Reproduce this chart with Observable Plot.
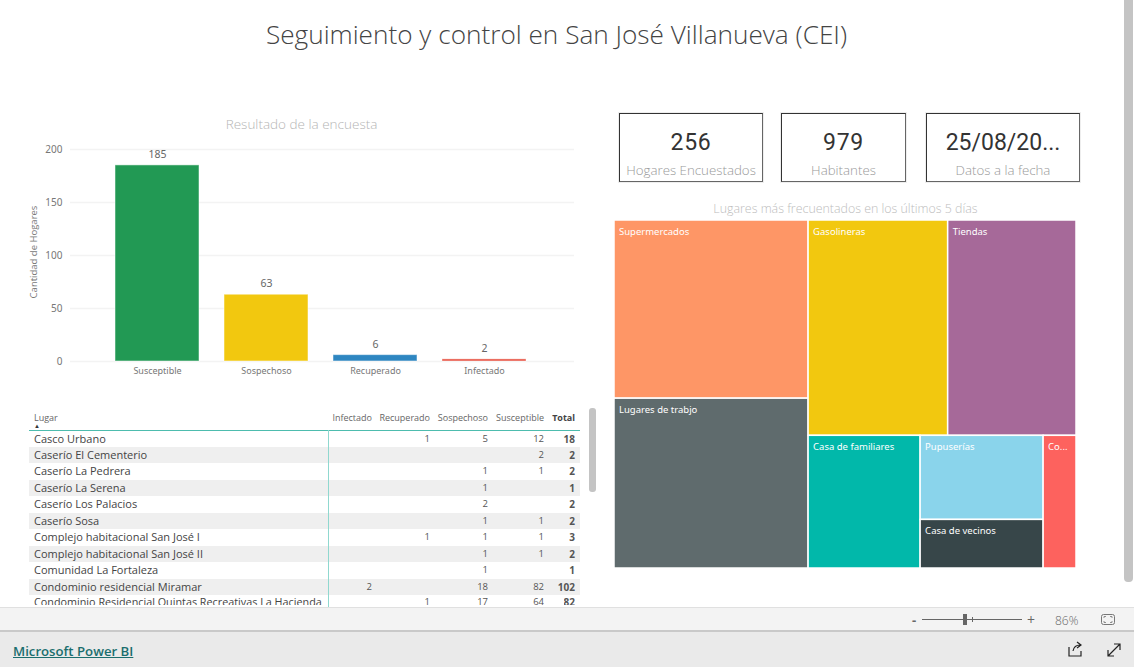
<!DOCTYPE html>
<html><head><meta charset="utf-8">
<script src="https://cdn.jsdelivr.net/npm/d3@7"></script>
<script src="https://cdn.jsdelivr.net/npm/@observablehq/plot@0.6"></script>
<style>
html,body{margin:0;padding:0;background:#fff;overflow:hidden}
#page{position:relative;width:1134px;height:667px;overflow:hidden;font-family:"Open Sans",sans-serif;color:#444}
.a{position:absolute;white-space:nowrap}
.plot{position:absolute}
.plot svg{display:block;overflow:visible}
.kpi{position:absolute;box-sizing:border-box;background:#fff;border:1px solid #333;border-right-color:#666;border-bottom-color:#666;box-shadow:0 0 0 1px #eee;text-align:center}
.kpi .v{position:absolute;left:0;right:0;top:15px;font:400 23px Roboto,sans-serif;letter-spacing:.7px;color:#333}
.kpi .l{position:absolute;left:0;right:0;top:47px;font:300 13.3px "Open Sans",sans-serif;color:#999}
</style></head><body><div id="page"></div>
<script>
const pageTitle = "Seguimiento y control en San José Villanueva (CEI)";
const barTitle = "Resultado de la encuesta";
const barCats = ["Susceptible","Sospechoso","Recuperado","Infectado"];
const barVals = [185,63,6,2];
const barColors = ["#229954","#F2C80F","#2E86C1","#E74C3C"];
const yTicks = [0,50,100,150,200];
const kpiVals = ["256","979","25/08/20..."];
const kpiLabels = ["Hogares Encuestados","Habitantes","Datos a la fecha"];
const treeTitle = "Lugares más frecuentados en los últimos 5 días";
const treeNames = ["Supermercados","Lugares de trabjo","Gasolineras","Tiendas","Casa de familiares","Pupuserías","Casa de vecinos","Co..."];
const treeVals = [214,204,186,171,92,64,37,27];
const treeColors = ["#FE9666","#5F6B6D","#F2C80F","#A66999","#01B8AA","#8AD4EB","#374649","#FD625E"];
const tableCols = ["Infectado","Recuperado","Sospechoso","Susceptible","Total"];
const tablePlaces = ["Casco Urbano","Caserío El Cementerio","Caserío La Pedrera","Caserío La Serena","Caserío Los Palacios","Caserío Sosa","Complejo habitacional San José I","Complejo habitacional San José II","Comunidad La Fortaleza","Condominio residencial Miramar","Condominio Residencial Quintas Recreativas La Hacienda"];
const colInfectado = [null,null,null,null,null,null,null,null,null,2,null];
const colRecuperado = [1,null,null,null,null,null,1,null,null,null,1];
const colSospechoso = [5,null,1,1,2,1,1,1,1,18,17];
const colSusceptible = [12,2,1,null,null,1,1,1,null,82,64];
const colTotal = [18,2,2,1,2,2,3,2,1,102,82];

const page = document.getElementById("page");
function put(cls, css, txt){const d=document.createElement("div");d.className=cls;d.style.cssText=css;if(txt!=null)d.textContent=txt;page.appendChild(d);return d;}

put("a","left:0;width:1113px;top:16px;text-align:center;font:300 26.2px 'Open Sans',sans-serif;color:#444",pageTitle);

// bar chart
put("a","left:0;width:603px;top:115px;text-align:center;font:300 13.5px 'Open Sans',sans-serif;color:#b5b5b5",barTitle);
const barData = barCats.map((c,i)=>({c,v:barVals[i],col:barColors[i]}));
const barPlot = Plot.plot({
  width:574,height:251,marginLeft:70,marginRight:0,marginTop:19,marginBottom:20,
  style:{background:"transparent",fontFamily:"'Open Sans',sans-serif"},
  x:{domain:barCats,range:[89.4,551.5],padding:0.23,label:null,axis:null},
  y:{domain:[0,200],ticks:yTicks,label:null,axis:null},
  marks:[
    Plot.ruleY(yTicks,{stroke:"#f3f3f3",strokeWidth:1.5}),
    Plot.axisY({ticks:yTicks,tickSize:0,tickPadding:8,fontSize:10,color:"#777",label:null}),
    Plot.axisX({tickSize:0,tickPadding:6,fontSize:9,color:"#777",label:null}),
    Plot.barY(barData,{x:"c",y:"v",fill:"col",stroke:"#fff",strokeOpacity:0.5,strokeWidth:1}),
    Plot.text(barData,{x:"c",y:"v",text:d=>String(d.v),dy:-11,fontSize:10.5,fill:"#666"})
  ]
});
barPlot.style.cssText="position:absolute;left:0;top:130px";
page.appendChild(barPlot);
put("a","left:33px;top:252px;transform:translate(-50%,-50%) rotate(-90deg);font:9.5px 'Open Sans',sans-serif;color:#777","Cantidad de Hogares");

// KPI cards
[[619,113,144,69],[781,113,125,69],[926,113,154,69]].forEach((b,i)=>{
  const k=put("kpi",`left:${b[0]}px;top:${b[1]}px;width:${b[2]}px;height:${b[3]}px`);
  const v=document.createElement("div");v.className="v";v.textContent=kpiVals[i];if(i==2)v.style.letterSpacing="0";k.appendChild(v);
  const l=document.createElement("div");l.className="l";l.textContent=kpiLabels[i];k.appendChild(l);
});

// treemap
put("a","left:615px;width:461px;top:200px;text-align:center;font:300 12.4px 'Open Sans',sans-serif;color:#bdbdbd",treeTitle);
const tw=462, th=348;
const leaf=i=>({name:treeNames[i],value:treeVals[i],color:treeColors[i]});
const treeRoot={dir:"dice",children:[
  {dir:"slice",children:[leaf(0),leaf(1)]},
  {dir:"slice",children:[
    {dir:"dice",children:[leaf(2),leaf(3)]},
    {dir:"dice",children:[leaf(4),{dir:"slice",children:[leaf(5),leaf(6)]},leaf(7)]}
  ]}
]};
const rootH=d3.hierarchy(treeRoot).sum(d=>d.value||0);
d3.treemap().size([tw,th]).tile((n,x0,y0,x1,y1)=>(n.data.dir==="dice"?d3.treemapDice:d3.treemapSlice)(n,x0,y0,x1,y1))(rootH);
const cells=rootH.leaves().map(l=>({x0:l.x0,x1:l.x1,y0:l.y0,y1:l.y1,name:l.data.name,color:l.data.color}));
const treePlot=Plot.plot({
  width:tw,height:th,margin:0,
  style:{background:"transparent",fontFamily:"'Open Sans',sans-serif"},
  x:{domain:[0,tw],range:[0,tw],axis:null},
  y:{domain:[0,th],range:[0,th],axis:null},
  marks:[
    Plot.rect(cells,{x1:"x0",x2:"x1",y1:"y0",y2:"y1",fill:"color",stroke:"#fff",strokeWidth:1.5}),
    Plot.text(cells,{x:"x0",y:"y0",text:"name",dx:4.5,dy:11.5,textAnchor:"start",fontSize:9.5,fill:"#fff"})
  ]
});
treePlot.style.cssText="position:absolute;left:614px;top:220px";
page.appendChild(treePlot);

// table
const tbl=put("a","left:0;top:400px;width:600px;height:207px;overflow:hidden");
function tput(css,txt){const d=document.createElement("div");d.className="a";d.style.cssText=css;if(txt!=null)d.textContent=txt;tbl.appendChild(d);return d;}
const rowH=16.45;
const rowTop=i=>30.5+i*rowH;
tablePlaces.forEach((p,i)=>{if(i%2==1)tput(`left:29px;width:551px;top:${rowTop(i)}px;height:${rowH}px;background:#efefef`);});
tput("left:34px;top:11px;font:9px 'Open Sans',sans-serif;color:#666","Lugar");
tput("left:34px;top:22px;font:6px 'Open Sans',sans-serif;color:#333","▲");
const rights=[372,430,488,544,575];
tableCols.forEach((c,j)=>tput(`right:${600-rights[j]}px;top:11px;font:${j==4?700:400} 9px 'Open Sans',sans-serif;color:${j==4?'#444':'#666'}`,c));
tput("left:29px;width:551px;top:30px;height:1px;background:#4dbcae");
tput("left:328px;width:1px;top:30px;height:177px;background:#90d8cf");
const cols=[colInfectado,colRecuperado,colSospechoso,colSusceptible,colTotal];
tablePlaces.forEach((p,i)=>{
  const last=i==tablePlaces.length-1;
  tput(`left:34px;top:${rowTop(i)-(last?1:0)}px;${last?"height:10.5px;overflow:hidden;":""}font:${last?10.8:11}px/16.4px 'Open Sans',sans-serif;color:#444`,p);
  cols.forEach((col,j)=>{if(col[i]!=null)tput(`right:${600-rights[j]}px;top:${rowTop(i)-(last?1:0)}px;${last?"height:10.5px;overflow:hidden;":""}font:${j==4?700:400} ${j==4?10:9.5}px/16.4px 'Open Sans',sans-serif;color:#555`,String(col[i]));});
});
put("a","left:589px;top:408px;width:7px;height:84px;background:#c4c4c4;border-radius:3px");

// page scrollbar
put("a","left:1124px;top:0;width:9px;height:582px;background:#c4c4c4;border-radius:0 0 4px 4px");

// footer
put("a","left:0;top:607px;width:1134px;height:23px;background:#f3f3f3;border-top:1px solid #e0e0e0;box-sizing:border-box");
put("a","left:0;top:630px;width:1134px;height:37px;background:#eaeaea;border-top:2px solid #c9c9c9;box-sizing:border-box");
put("a","left:13px;top:642px;font:600 13.2px 'Open Sans',sans-serif;color:#1b6e6e;text-decoration:underline","Microsoft Power BI");
put("a","left:912px;top:611px;font:700 13px 'Open Sans',sans-serif;color:#666","-");
put("a","left:922px;top:619px;width:100px;height:1px;background:#666");
put("a","left:963px;top:614px;width:4px;height:11px;background:#666");
put("a","left:972px;top:617px;width:1px;height:5px;background:#666");
put("a","left:1027px;top:610px;font:400 14px 'Open Sans',sans-serif;color:#666","+");
put("a","left:1055px;top:612px;font:300 12px 'Open Sans',sans-serif;color:#666","86%");
const icons=document.createElementNS("http://www.w3.org/2000/svg","svg");
icons.setAttribute("width","1134");icons.setAttribute("height","667");icons.style.cssText="position:absolute;left:0;top:0;pointer-events:none";
icons.innerHTML='<g fill="none" stroke="#222" stroke-width="1.2"><path d="M1069 647v9h12v-5"/><path d="M1073 651c1-5 4-6 7-6M1077 642l4 3-4 3"/><path d="M1108 656l12-12M1114 644h6v6M1108 650v6h6"/></g><rect x="1101.5" y="614.5" width="13" height="10" rx="2" fill="none" stroke="#777"/><path d="M1104 618v-1.5h2M1112 618v-1.5h-2M1104 621v1.5h2M1112 621v1.5h-2" fill="none" stroke="#777" stroke-width=".8"/>';
page.appendChild(icons);
</script></body></html>
